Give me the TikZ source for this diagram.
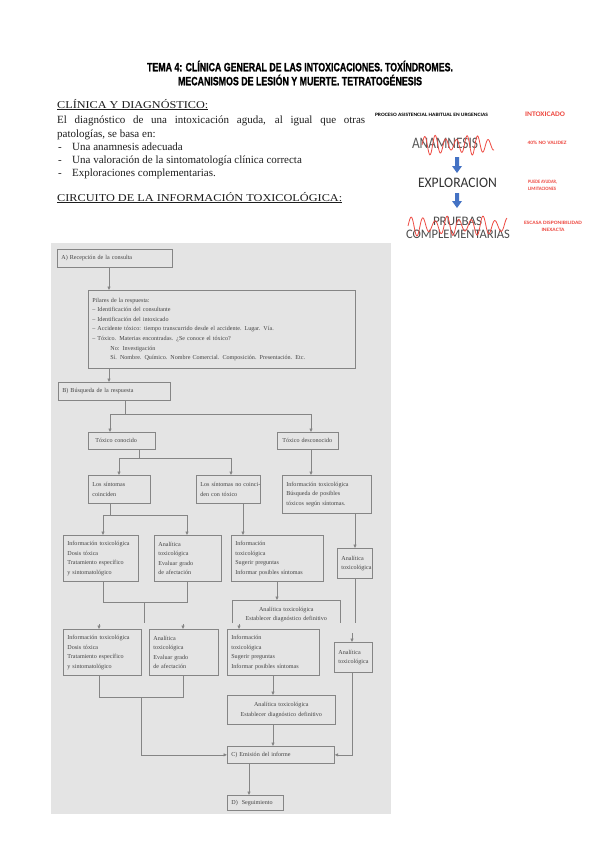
\documentclass[tikz,border=0pt]{standalone}
\usepackage{fontspec}
\usepackage{graphicx}
\setmainfont{Liberation Serif}
\newfontfamily\sansfam{Liberation Sans}
\newfontfamily\titlefam[BoldFeatures={FakeBold=1.3}]{Liberation Sans}
\newfontfamily\calfam{Carlito}
\usetikzlibrary{arrows.meta}
\definecolor{bggray}{HTML}{E4E4E4}
\definecolor{boxline}{HTML}{858585}
\definecolor{fctext}{HTML}{444444}
\definecolor{pptred}{HTML}{EE4B43}
\definecolor{pptblue}{HTML}{4472C4}
\definecolor{bodytext}{HTML}{1E1E1E}
\newcommand\fcfont{\fontsize{6.1}{9.6}\selectfont}
\newcommand\fcbox[6]{%
  \pgfmathsetmacro\fcw{#4-#2}\pgfmathsetmacro\fch{#5-#3}\pgfmathsetmacro\fctw{#4-#2-8}%
  \node[fb, minimum width=\fcw pt, minimum height=\fch pt, text width=\fctw pt] (#1) at (#2,#3) {#6};}
\begin{document}
\begin{tikzpicture}[x=1pt,y=-1pt,
  fb/.style={draw=boxline, line width=0.7pt, anchor=north west, align=left, inner xsep=4pt, inner ysep=1pt, font=\fcfont, text=fctext},
  ln/.style={draw=boxline, line width=0.7pt},
  arr/.style={draw=boxline, line width=0.7pt, -{Triangle[length=3.5pt,width=3pt]}},
  txt/.style={inner sep=0pt, anchor=base west, text=bodytext},
  ppt/.style={inner sep=0pt, anchor=center},
  wave/.style={draw=pptred, line width=0.8pt},
  barrow/.style={fill=pptblue}]
\useasboundingbox (0,0) rectangle (599,848);
\fill[white] (0,0) rectangle (599,848);

% ---- title ----
\node[ppt] (title1) at (300,66) {\resizebox{306pt}{\height}{\titlefam\bfseries\fontsize{12}{14}\selectfont TEMA 4: CLÍNICA GENERAL DE LAS INTOXICACIONES. TOXÍNDROMES.}};
\node[ppt] (title2) at (300,80) {\resizebox{244pt}{\height}{\titlefam\bfseries\fontsize{12}{14}\selectfont MECANISMOS DE LESIÓN Y MUERTE. TETRATOGÉNESIS}};

% ---- left text ----
\node[txt] (h1) at (57,108) {\resizebox{151pt}{\height}{\fontsize{10.5}{12}\selectfont\underline{CLÍNICA Y DIAGNÓSTICO:}}};
\node[txt] (l1) at (57,124) {\fontsize{11}{12}\selectfont\makebox[308pt][s]{El diagnóstico de una intoxicación aguda, al igual que otras}};
\node[txt] (l2) at (57,137) {\fontsize{11}{12}\selectfont patologías, se basa en:};
\node[txt] (d1) at (58,150) {\fontsize{11}{12}\selectfont -};
\node[txt] (b1) at (72,150) {\fontsize{11}{12}\selectfont Una anamnesis adecuada};
\node[txt] (d2) at (58,163) {\fontsize{11}{12}\selectfont -};
\node[txt] (b2) at (72,163) {\fontsize{11}{12}\selectfont Una valoración de la sintomatología clínica correcta};
\node[txt] (d3) at (58,176) {\fontsize{11}{12}\selectfont -};
\node[txt] (b3) at (72,176) {\fontsize{11}{12}\selectfont Exploraciones complementarias.};
\node[txt] (h2) at (57,201) {\resizebox{285pt}{\height}{\fontsize{10.5}{12}\selectfont\underline{CIRCUITO DE LA INFORMACIÓN TOXICOLÓGICA:}}};

% ---- right slide ----
\node[ppt] (proc) at (431.5,115) {\resizebox{113pt}{\height}{\calfam\bfseries\fontsize{5}{6}\selectfont PROCESO ASISTENCIAL HABITUAL EN URGENCIAS}};
\node[ppt, text=pptred] (intox) at (545,114) {\resizebox{40pt}{\height}{\calfam\bfseries\fontsize{7}{8}\selectfont INTOXICADO}};
\node[ppt, text=black!65] (anam) at (445,143) {\resizebox{66pt}{\height}{\calfam\fontsize{16}{18}\selectfont ANAMNESIS}};
\draw[wave] plot[domain=0:72, samples=120, smooth] ({422+\x}, {145-10*sin(\x*34)*(0.75+0.25*sin(\x*9))});
\node[ppt, text=pptred] (nov) at (547,143) {\resizebox{39pt}{\height}{\calfam\bfseries\fontsize{5}{6}\selectfont 40\% NO VALIDEZ}};
\fill[barrow] (455,157) -- (459,157) -- (459,166) -- (462,166) -- (457,173) -- (452,166) -- (455,166) -- cycle;
\node[ppt, text=black!80] (expl) at (457.5,183) {\resizebox{79pt}{\height}{\calfam\fontsize{14.5}{17}\selectfont EXPLORACION}};
\node[ppt, text=pptred, anchor=west] (ayu) at (528,182) {\resizebox{29pt}{\height}{\calfam\bfseries\fontsize{5}{6}\selectfont PUEDE AYUDAR,}};
\node[ppt, text=pptred, anchor=west] (lim) at (528,189) {\resizebox{28pt}{\height}{\calfam\bfseries\fontsize{5}{6}\selectfont LIMITACIONES}};
\fill[barrow] (455,193) -- (459,193) -- (459,201) -- (462,201) -- (457,208) -- (452,201) -- (455,201) -- cycle;
\node[ppt, text=black!70, anchor=base] (prue) at (457.5,225) {\resizebox{49pt}{\height}{\calfam\fontsize{13}{15}\selectfont PRUEBAS}};
\node[ppt, text=black!70, anchor=base] (comp) at (458,238) {\resizebox{104pt}{\height}{\calfam\fontsize{13}{15}\selectfont COMPLEMENTARIAS}};
\draw[wave] plot[domain=0:99, samples=160, smooth] ({408+\x}, {226-10*sin(\x*30)*(0.75+0.25*sin(\x*11))});
\node[ppt, text=pptred] (esc) at (553,223) {\resizebox{58pt}{\height}{\calfam\bfseries\fontsize{5}{6}\selectfont ESCASA DISPONIBILIDAD}};
\node[ppt, text=pptred] (inex) at (553,230) {\resizebox{23pt}{\height}{\calfam\bfseries\fontsize{5}{6}\selectfont INEXACTA}};

% ---- flowchart ----
\fill[bggray] (51,243) rectangle (391,814);
\fcbox{A}{57}{249}{172}{267}{A) Recepción de la consulta}
\fcbox{P}{88}{290}{355}{368}{Pilares de la respuesta:\\– Identificación del consultante\\– Identificación del intoxicado\\– Accidente tóxico: tiempo transcurrido desde el accidente. Lugar. Vía.\\– Tóxico. Materias encontradas. ¿Se conoce el tóxico?\\\hspace*{18pt}No: Investigación\\\hspace*{18pt}Sí. Nombre. Químico. Nombre Comercial. Composición. Presentación. Etc.}
\fcbox{B}{58}{382}{170}{400}{B) Búsqueda de la respuesta}
\fcbox{TC}{88}{432}{155}{449}{\hspace*{3pt}Tóxico conocido}
\fcbox{TD}{277}{432}{338}{449}{\hspace*{1pt}Tóxico desconocido}
\fcbox{S1}{88}{475}{150}{503}{Los síntomas\\coinciden}
\fcbox{S2}{196}{475}{260}{503}{\mbox{Los síntomas no coinci-}\\den con tóxico}
\fcbox{S3}{282}{475}{371}{513}{Información toxicológica\\Búsqueda de posibles\\tóxicos según síntomas.}
\fcbox{R4a}{63}{535}{138}{581}{\mbox{Información toxicológica}\\Dosis tóxica\\Tratamiento específico\\y sintomatológico}
\fcbox{R4b}{154}{535}{221}{581}{Analítica\\toxicológica\\Evaluar grado\\de afectación}
\fcbox{R4c}{231}{535}{323}{581}{Información\\toxicológica\\Sugerir preguntas\\Informar posibles síntomas}
\fcbox{R4d}{337}{548}{372}{578}{Analítica\\toxicológica}
\node[fb, draw=none, align=center, minimum width=106pt, minimum height=28pt, text width=100pt] (R4e) at (232,600) {Analítica toxicológica\\Establecer diagnóstico definitivo};
\draw[ln] ([yshift=-23pt]R4e.north west) -- (R4e.north west) -- (R4e.north east) -- ([yshift=-23pt]R4e.north east);
\fcbox{R5a}{63}{629}{141}{675}{\mbox{Información toxicológica}\\Dosis tóxica\\Tratamiento específico\\y sintomatológico}
\fcbox{R5b}{149}{629}{218}{675}{Analítica\\toxicológica\\Evaluar grado\\de afectación}
\fcbox{R5c}{227}{629}{319}{675}{Información\\toxicológica\\Sugerir preguntas\\Informar posibles síntomas}
\fcbox{R5d}{334}{642}{372}{672}{Analítica\\toxicológica}
\node[fb, align=center, minimum width=108pt, minimum height=29pt, text width=100pt] (R5e) at (227,695) {Analítica toxicológica\\Establecer diagnóstico definitivo};
\fcbox{C}{227}{746}{334}{763}{C) Emisión del informe}
\fcbox{D}{227}{795}{283}{810}{D)\hspace{4pt}Seguimiento}

% connectors
\coordinate (xA) at (109,0);
\draw[arr] (A.south -| xA) -- (P.north -| xA);
\draw[arr] (P.south -| xA) -- (B.north -| xA);
\coordinate (jB) at (125,414);
\coordinate (jBl) at (110,414);
\coordinate (jBr) at (311,414);
\draw[ln] (B.south -| jB) -- (jB);
\draw[ln] (jBl) -- (jBr);
\draw[arr] (jBl) -- (TC.north -| jBl);
\draw[arr] (jBr) -- (TD.north -| jBr);
\coordinate (jT) at (139,458);
\coordinate (jTl) at (119,458);
\coordinate (jTr) at (231,458);
\draw[ln] (TC.south -| jT) -- (jT);
\draw[ln] (jTl) -- (jTr);
\draw[arr] (jTl) -- (S1.north -| jTl);
\draw[arr] (jTr) -- (S2.north -| jTr);
\draw[arr] (TD.south -| jBr) -- (S3.north -| jBr);
\coordinate (jS) at (110,515);
\coordinate (jSl) at (103,515);
\coordinate (jSr) at (187,515);
\draw[ln] (S1.south -| jS) -- (jS);
\draw[ln] (jSl) -- (jSr);
\draw[arr] (jSl) -- (R4a.north -| jSl);
\draw[arr] (jSr) -- (R4b.north -| jSr);
\coordinate (x243) at (243,0);
\draw[arr] (S2.south -| x243) -- (R4c.north -| x243);
\coordinate (x355) at (355,0);
\draw[arr] (S3.south -| x355) -- (R4d.north -| x355);
\coordinate (k1l) at (103,602);
\coordinate (k1r) at (187,602);
\coordinate (k1m) at (144,602);
\coordinate (k1e) at (144,623);
\draw[ln] (R4a.south -| k1l) -- (k1l) -- (k1r) -- (R4b.south -| k1r);
\draw[ln] (k1m) -- (k1e);
\coordinate (t1) at (99,624);
\coordinate (t2) at (183,624);
\coordinate (t3) at (239,624);
\draw[arr] (t1) -- (R5a.north -| t1);
\draw[arr] (t2) -- (R5b.north -| t2);
\draw[arr] (t3) -- (R5c.north -| t3);
\coordinate (x277) at (277,0);
\draw[arr] (R4c.south -| x277) -- (R4e.north -| x277);
\coordinate (k2) at (355,623);
\draw[ln] (R4d.south -| k2) -- (k2);
\coordinate (t4) at (352,633);
\draw[arr] (t4) -- (R5d.north -| t4);
\coordinate (k3l) at (99,697);
\coordinate (k3r) at (183,697);
\coordinate (k3m) at (141,697);
\draw[ln] (R5a.south -| k3l) -- (k3l) -- (k3r) -- (R5b.south -| k3r);
\draw[arr] (k3m) |- (C.west);
\coordinate (x273) at (273,0);
\draw[arr] (R5c.south -| x273) -- (R5e.north -| x273);
\draw[arr] (R5e.south -| x273) -- (C.north -| x273);
\coordinate (x352) at (352,0);
\draw[arr] (R5d.south -| x352) |- (C.east);
\coordinate (x249) at (249,0);
\draw[arr] (C.south -| x249) -- (D.north -| x249);
\end{tikzpicture}
\end{document}
